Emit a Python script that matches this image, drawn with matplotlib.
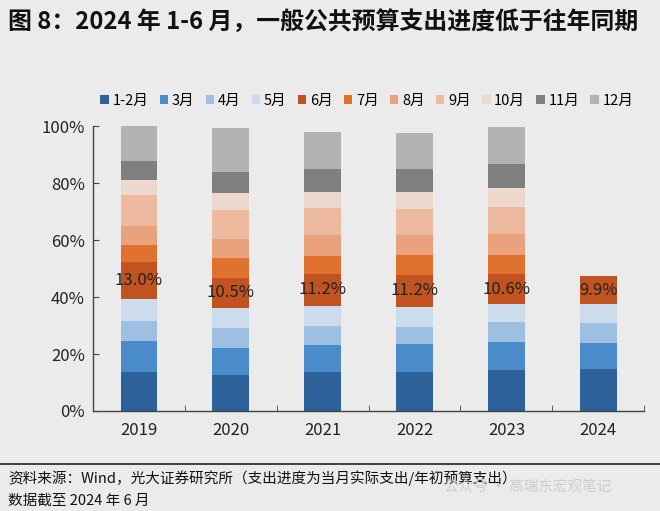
import matplotlib
matplotlib.use("Agg")
import matplotlib.pyplot as plt
import numpy as np

plt.rcParams['font.family'] = ['Noto Sans CJK SC', 'DejaVu Sans']

# 每年各月支出占年初预算的比例（%）
years = ['2019', '2020', '2021', '2022', '2023', '2024']
months = ['1-2月', '3月', '4月', '5月', '6月', '7月', '8月', '9月', '10月', '11月', '12月']

m1_2 = [13.8, 12.6, 13.8, 13.8, 14.4, 14.7]
m3 = [10.8, 9.4, 9.4, 9.6, 9.9, 9.3]
m4 = [7.1, 7.2, 6.7, 6.2, 6.8, 6.8]
m5 = [7.6, 7.0, 7.0, 7.0, 6.4, 6.7]
m6 = [13.0, 10.5, 11.2, 11.2, 10.6, 9.9]
m7 = [6.1, 7.0, 6.4, 6.8, 6.6, 0]
m8 = [6.4, 6.7, 7.1, 7.0, 7.4, 0]
m9 = [10.9, 10.3, 9.5, 9.4, 9.6, 0]
m10 = [5.3, 5.9, 5.9, 6.0, 6.7, 0]
m11 = [6.6, 7.4, 8.0, 7.9, 8.2, 0]
m12 = [12.5, 15.2, 13.0, 12.6, 12.9, 0]

series = [m1_2, m3, m4, m5, m6, m7, m8, m9, m10, m11, m12]
colors = ['#2c6299', '#4a8bca', '#9dbfe2', '#cddcec', '#c0531f', '#e0712f',
          '#e9a27b', '#edb99f', '#ecd8cd', '#7f7f7f', '#b3b3b3']

bg = '#ebebeb'
fig = plt.figure(figsize=(6.6, 5.11), dpi=100, facecolor=bg)
ax = fig.add_axes([0.141, 0.1957, 0.835, 0.5577], facecolor=bg)

x = np.arange(len(years))
bottom = np.zeros(len(years))
for name, vals, c in zip(months, series, colors):
    v = np.array(vals, dtype=float)
    ax.bar(x, v, width=0.4, bottom=bottom, color=c, label=name, linewidth=0)
    if name == '6月':
        for xi, b, h in zip(x, bottom, v):
            ax.text(xi, b + h / 2, f'{h:.1f}%', ha='center', va='center',
                    fontsize=12, color='#222222')
    bottom += v

ax.set_xlim(-0.5, 5.5)
ax.set_ylim(0, 100)
ax.set_yticks(np.arange(0, 101, 20))
ax.set_yticklabels([f'{t}%' for t in range(0, 101, 20)])
ax.set_xticks(x)
ax.set_xticklabels(years)
ax.set_xticks(np.arange(-0.5, 6, 1), minor=True)
ax.tick_params(axis='x', which='major', length=0, labelsize=12, pad=8, colors='#222222')
ax.tick_params(axis='x', which='minor', length=4, direction='in', color='#444444')
ax.tick_params(axis='y', length=4, direction='in', labelsize=12, pad=6, colors='#222222')
ax.tick_params(axis='y', color='#444444')
for s in ['top', 'right']:
    ax.spines[s].set_visible(False)
for s in ['left', 'bottom']:
    ax.spines[s].set_color('#444444')
    ax.spines[s].set_linewidth(1)

fig.legend(loc='center', bbox_to_anchor=(0.556, 0.803), ncol=11, frameon=False,
           fontsize=10.5, handlelength=0.6, handleheight=0.6, handletextpad=0.25,
           columnspacing=0.75, borderaxespad=0)

fig.text(0.012, 0.957, '图 8：2024 年 1-6 月，一般公共预算支出进度低于往年同期',
         fontsize=17.2, fontweight='bold', color='#111111', va='center')

fig.add_artist(plt.Line2D([0, 1], [0.091, 0.091], color='#222222', linewidth=1.2))
fig.text(0.012, 0.064, '资料来源：Wind，光大证券研究所（支出进度为当月实际支出/年初预算支出）',
         fontsize=10.5, color='#111111', va='center')
fig.text(0.012, 0.02, '数据截至 2024 年 6 月', fontsize=10.5, color='#111111', va='center')
fig.text(0.672, 0.046, '公众号 · 高瑞东宏观笔记', fontsize=10.5, color='#cdcdcd', va='center')

fig.savefig('out.png', dpi=100, facecolor=bg)
